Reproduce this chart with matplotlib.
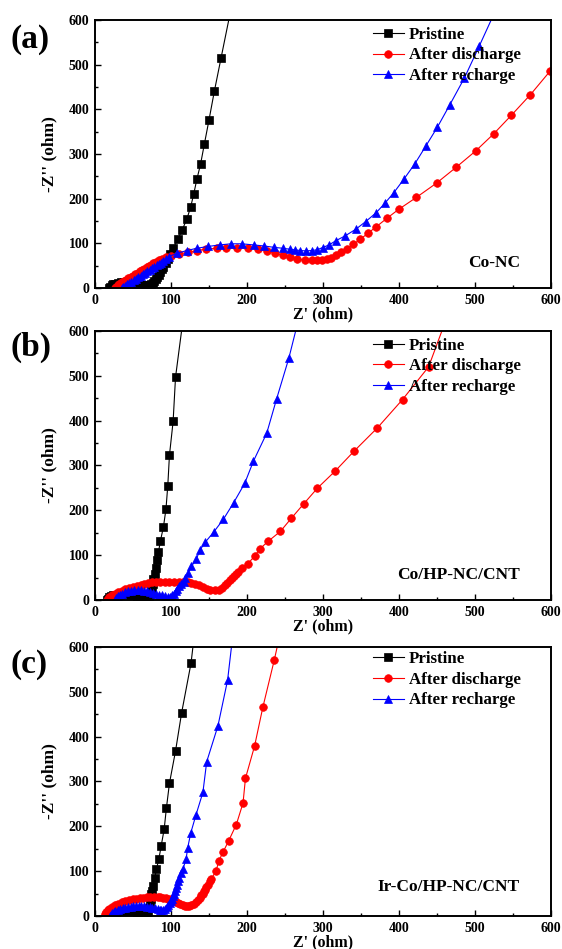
import matplotlib
matplotlib.use("Agg")
import matplotlib.pyplot as plt
from matplotlib.ticker import MultipleLocator

plt.rcParams['font.family'] = ['Liberation Serif', 'DejaVu Serif']
plt.rcParams['font.weight'] = 'bold'

# ---------------- data ----------------
# panel (a) Co-NC
a_pri_x = [19, 20, 22, 24, 27, 30, 34, 38, 42, 46, 50, 54, 58, 62, 66, 69, 72, 74, 76, 78, 80, 82, 84, 86, 88,
           90, 93, 96, 99, 103, 109, 115, 121, 126, 130, 134, 139, 144, 150, 157, 166, 179]
a_pri_y = [0, 3, 6, 8, 10, 12, 13, 13, 13, 12, 11, 10, 8, 7, 6, 6, 7, 9, 12, 16, 20, 25, 30, 36, 42,
           48, 57, 66, 76, 89, 109, 131, 155, 182, 211, 243, 278, 323, 376, 440, 516, 625]
a_dis_x = [26, 28, 30, 32, 34, 36, 38, 41, 44, 47, 50, 53, 56, 59, 62, 65, 68, 71, 74, 77, 80, 84, 88, 93,
           100, 111, 123, 134, 146, 160, 173, 187, 201, 214, 226, 237, 248, 256, 266, 276, 286, 292, 299,
           305, 311, 317.5, 324, 331.6, 340, 349, 359, 370, 384, 399.5, 423, 449.5, 475, 501, 524.5, 548,
           573, 599, 625]
a_dis_y = [0, 3, 6, 9, 12, 14, 16, 19, 22, 25, 28, 31, 34, 37, 40, 43, 46, 49, 52, 55, 58, 62, 65, 69,
           72, 76.5, 80, 84, 87, 89, 89, 89, 89, 87, 83, 78, 73, 70, 65, 63, 62, 62, 62,
           65, 68, 73.5, 81, 88, 98, 109, 122.5, 137, 156, 176, 203, 235, 270, 307, 345, 387,
           433, 486, 545]
a_rec_x = [35, 37, 39, 42, 45, 48, 51, 54, 57, 60, 63, 66, 69, 72, 75, 78, 81, 84, 87, 90, 94, 97,
           108.5, 121, 134, 148.6, 164, 179, 193, 209, 223, 236, 247, 256, 263, 270, 278, 285, 292,
           299.5, 308, 317, 329, 343, 356, 370, 382, 393, 407, 421, 435, 450.5, 467, 486, 505.7, 528]
a_rec_y = [0, 3, 5, 8, 11, 14, 17, 20, 24, 27, 31, 34, 37, 41, 44, 48, 51, 54, 57, 61, 64, 70.5,
           78, 84, 89, 93, 96.5, 99, 99, 96.5, 94, 91, 89, 87, 85.4, 84, 83, 84, 85.4,
           90.6, 96.5, 106, 116.6, 131.4, 148.5, 168.6, 191, 213, 245, 278.5, 317, 360, 410.6, 470, 542, 625]

# panel (b) Co/HP-NC/CNT
b_pri_x = [16, 17, 19, 21, 24, 27, 31, 35, 39, 43, 47, 51, 55, 59, 62, 65, 68, 70, 71.5, 73, 74, 75, 76,
           77, 78.8, 80.7, 81.6, 83.5, 86, 90, 93.4, 95.8, 98, 102.8, 106, 117]
b_pri_y = [0, 3, 6, 8, 10, 12, 13, 13.5, 13.5, 13, 12, 11, 9, 7, 5.5, 4.5, 4.5, 6, 9, 14, 20, 27, 35,
           46, 57, 71.7, 88.7, 106, 131, 162, 202.5, 255, 323, 398, 497, 640]
b_dis_x = [15.5, 17, 19, 22, 26, 30, 35, 40, 45, 50, 55, 60, 65, 70, 75, 80, 86, 92, 98, 104, 110, 116,
           122, 127, 132, 137, 142, 147.6, 152, 158, 163, 167.5, 171, 174, 177, 180, 182.5, 185, 188.7,
           193, 201, 209.9, 217, 228, 244, 258.5, 274.5, 292.5, 316, 341, 371.7, 404.7, 439, 463]
b_dis_y = [0, 3, 6, 10, 14, 18, 21, 24, 27, 29, 32, 34, 36, 37.5, 39, 40, 41, 41, 41, 41, 41, 40.5,
           39.5, 38, 36, 33, 29.6, 25, 22.5, 21.4, 23, 27, 33, 38, 43.6, 48, 53, 57, 62,
           71.7, 80.5, 97.5, 114, 131, 153, 182.5, 214, 249, 287.4, 332, 384, 447, 520, 630]
b_rec_x = [26, 28, 30, 33, 36, 40, 44, 48, 52, 56, 60, 64, 68, 72, 76, 80, 84, 88, 92, 96, 99, 102,
           104, 106, 108, 111, 113, 116.5, 119, 122.6, 127, 133.5, 138, 145, 156, 169, 182.5, 197,
           208.5, 226, 239, 255, 270]
b_rec_y = [0, 4, 8, 11, 14, 17, 19, 21, 22, 22, 22, 21, 20, 18, 16, 14, 12, 10, 8, 7, 7.5, 10,
           14, 20, 25, 31, 36, 40, 49.5, 60.6, 75, 91.6, 111, 128.6, 151, 180, 217, 260,
           309.6, 372, 448.5, 538.7, 640]

# panel (c) Ir-Co/HP-NC/CNT
c_pri_x = [22, 23, 25, 28, 31, 35, 39, 43, 47, 51, 55, 58, 61, 64, 66, 68, 70, 71.5, 72.5, 73.5, 74, 75,
           76.5, 78.8, 80.7, 84, 87, 91, 94, 98, 106, 114, 126.4, 133]
c_pri_y = [0, 3, 6, 8, 10, 11, 12, 12, 11.5, 10.5, 9, 7.5, 6, 4.5, 4, 5, 10, 18, 27, 38, 48, 56,
           67, 85, 104, 126, 155.5, 193, 241, 296, 368, 453, 564, 660]
c_dis_x = [12.7, 13.5, 15, 17, 19, 22, 26, 30, 35, 40, 45, 50, 54, 59, 63.7, 68, 73, 78, 82.5, 86, 89.6,
           93, 96.7, 100, 103.8, 107, 109.4, 112, 115.6, 118, 121, 124, 127, 130, 133.5, 136, 138, 140,
           141.5, 143, 144.8, 146.5, 148.6, 151, 153, 159.4, 162.7, 168.4, 176, 186, 194.8, 198, 210,
           220.8, 235.8, 245]
c_dis_y = [0, 4, 9, 13, 16, 20, 23.7, 27, 31, 33.5, 35.5, 37, 38.5, 40, 40.7, 41.5, 42, 42, 42, 41.5, 40.7,
           39.5, 38.5, 37, 35, 32, 29.6, 27, 25, 23, 22, 22.5, 23.7, 27, 31, 36, 41, 46,
           50, 55, 59, 64, 70, 77, 83, 100, 122, 142, 168, 204, 252, 307, 379,
           465, 570, 640]
c_rec_x = [20, 21.5, 23, 25, 27, 30, 33, 36.5, 40, 43.5, 47, 50.5, 54, 57.5, 61, 65, 68.4, 72, 75.5, 79,
           82.5, 85, 87, 89.5, 92, 94.5, 96.7, 98.5, 100.5, 102, 103, 104, 105, 106.3, 107.5, 109, 111,
           113, 115.6, 119.8, 122, 126, 133, 142, 147, 161.8, 174.5, 183]
c_rec_y = [0, 3, 6, 8, 10, 12.5, 15, 17, 18.5, 19.8, 20.7, 21.5, 22, 22, 22, 21.5, 20.7, 19.6, 18.5, 17,
           15, 14, 13, 13.5, 16, 19.5, 23.7, 28, 33, 38, 44, 50, 55.5, 63, 70, 78, 85,
           95, 104, 126, 152, 185, 226, 275.6, 344, 424, 526, 650]

labels = ['Pristine', 'After discharge', 'After recharge']
samples = ['Co-NC', 'Co/HP-NC/CNT', 'Ir-Co/HP-NC/CNT']
tags = ['(a)', '(b)', '(c)']

panels = [
    [(a_pri_x, a_pri_y), (a_dis_x, a_dis_y), (a_rec_x, a_rec_y)],
    [(b_pri_x, b_pri_y), (b_dis_x, b_dis_y), (b_rec_x, b_rec_y)],
    [(c_pri_x, c_pri_y), (c_dis_x, c_dis_y), (c_rec_x, c_rec_y)],
]

colors = ['#000000', '#ff0000', '#0000ff']
markers = ['s', 'o', '^']

# axes boxes in figure fraction (left, bottom, width, height)
boxes = [
    [0.169, 0.6965, 0.8114, 0.2824],
    [0.169, 0.3678, 0.8114, 0.2835],
    [0.169, 0.0348, 0.8114, 0.2835],
]
tag_y = [0.958, 0.634, 0.300]
sample_y = [56, 56, 65]
legend_top = [0.975, 0.975, 0.985]

fig = plt.figure(figsize=(5.62, 9.49), dpi=100)

for i in range(3):
    ax = fig.add_axes(boxes[i])
    for j in range(3):
        x, y = panels[i][j]
        ax.plot(x, y, color=colors[j], marker=markers[j], markersize=5.5, linewidth=0.8,
                markeredgewidth=0.5, label=labels[j])

    ax.set_xlim(0, 600)
    ax.set_ylim(0, 600)
    ax.xaxis.set_major_locator(MultipleLocator(100))
    ax.yaxis.set_major_locator(MultipleLocator(100))
    ax.xaxis.set_minor_locator(MultipleLocator(50))
    ax.yaxis.set_minor_locator(MultipleLocator(50))
    ax.tick_params(which='major', direction='in', length=4, width=1, labelsize=10, pad=4)
    ax.tick_params(which='minor', direction='in', length=2.5, width=1)
    for lab in ax.get_xticklabels() + ax.get_yticklabels():
        lab.set_fontweight('bold')
    for sp in ax.spines.values():
        sp.set_linewidth(1.4)

    ax.set_xlabel("Z' (ohm)", fontsize=11.5, fontweight='bold', labelpad=0)
    ax.set_ylabel("-Z'' (ohm)", fontsize=12.5, fontweight='bold')
    ax.yaxis.set_label_coords(-0.083, 0.5)

    ax.text(559, sample_y[i], samples[i], ha='right', va='center', fontsize=12.5, fontweight='bold')

    ax.legend(loc='upper left', bbox_to_anchor=(0.61, legend_top[i]), frameon=False,
              fontsize=12.2, handlelength=1.8, handletextpad=0.3, labelspacing=0.28,
              borderpad=0, borderaxespad=0)

    fig.text(0.018, tag_y[i], tags[i], fontsize=24, fontweight='bold', va='center', ha='left')

fig.savefig('out.png', dpi=100)
